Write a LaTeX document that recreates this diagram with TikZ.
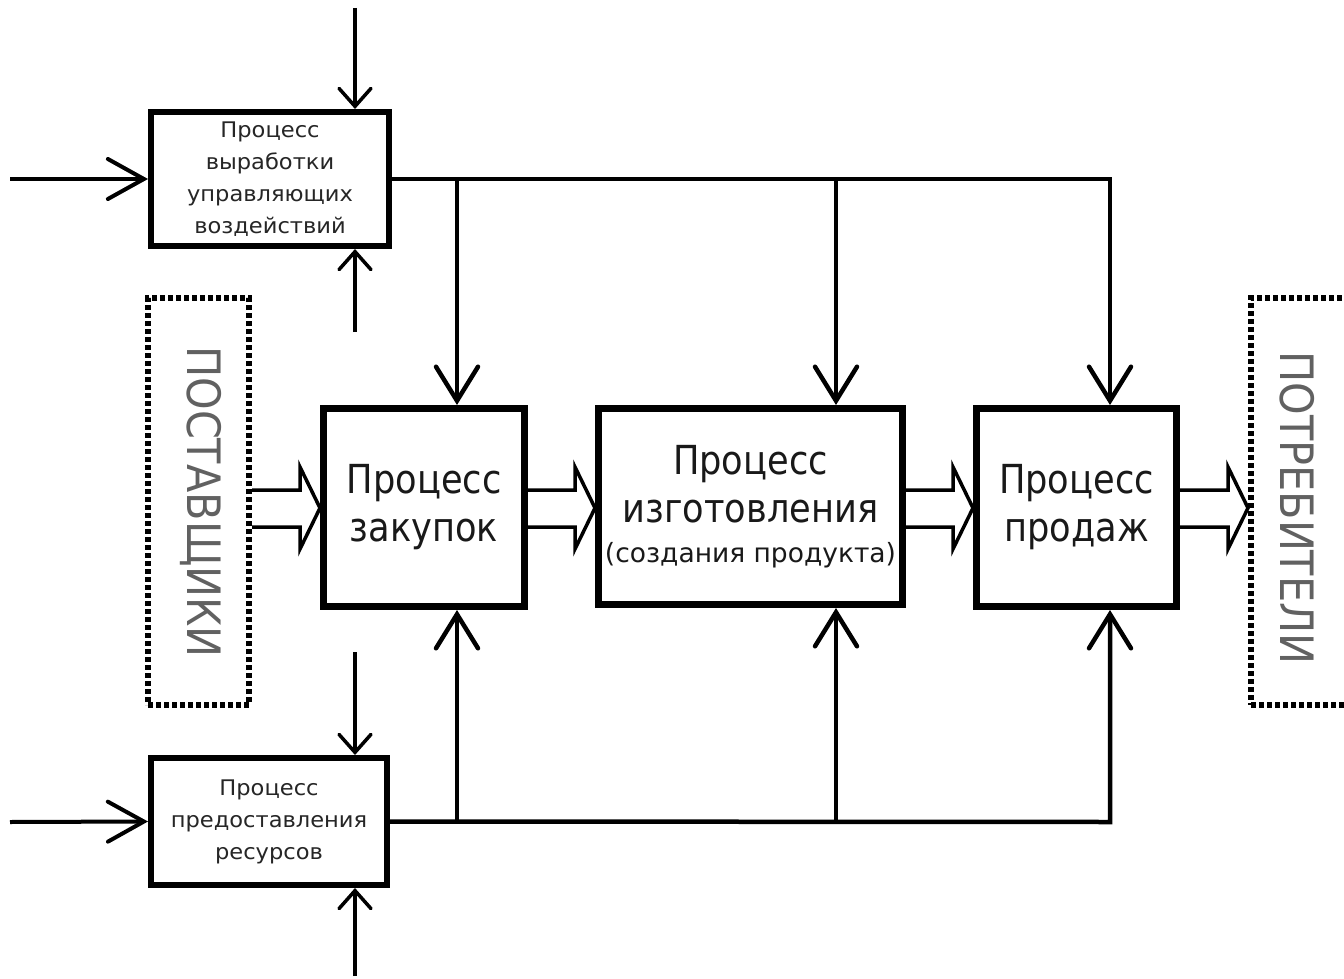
\documentclass[tikz,border=0pt]{standalone}
\usepackage{fontspec}
\setmainfont{DejaVu Sans}
\newfontfamily\mainfnt{DejaVu Sans}[FakeStretch=0.88]
\newfontfamily\smallfnt{DejaVu Sans}[FakeStretch=1.05]
\newfontfamily\vertfnt{DejaVu Sans}[FakeStretch=0.9]
\usetikzlibrary{arrows.meta,calc}
\tikzset{
  mainbox/.style={draw, line width=7pt, inner sep=0pt, align=center, text=black!90,
    font=\mainfnt\fontsize{40}{48}\selectfont},
  smallbox/.style={draw, line width=6pt, inner sep=0pt, align=center, text=black!85,
    font=\smallfnt\fontsize{21.5}{32}\selectfont},
  dotbox/.style={draw, line width=6pt, dash pattern=on 5pt off 3pt, inner sep=0pt},
  vtext/.style={rotate=-90, text=black!62, font=\vertfnt\fontsize{46}{50}\selectfont},
  bigarr/.style={line width=4.5pt, line join=miter, -{Straight Barb[length=34pt,width=42pt,line cap=round]}},
  smallarr/.style={line width=3.5pt, -{Straight Barb[length=18pt,width=32pt,line cap=round]}},
  inarr/.style={line width=4pt, -{Straight Barb[length=36pt,width=40pt,line cap=round]}},
  hollow/.style={draw, fill=white, line width=3.5pt, line join=miter}
}
\newcommand{\harrow}[2]{%
  \draw[hollow] let \p1=(#1.east), \p2=(#2.west) in
    (\x1,490) -- (\x2-20pt,490) -- (\x2-20pt,467) -- (\x2,508) -- (\x2-20pt,549) -- (\x2-20pt,527) -- (\x1,527);}
\begin{document}
\begin{tikzpicture}[x=1pt,y=-1pt]
\useasboundingbox[fill=white] (0,0) rectangle (1344,979);

% boxes
\node[smallbox, minimum width=238pt, minimum height=134pt] (A) at (270,179)
  {Процесс\\выработки\\управляющих\\воздействий};
\node[smallbox, minimum width=236pt, minimum height=127pt] (B) at (269,821.5)
  {Процесс\\предоставления\\ресурсов};
\node[mainbox, minimum width=201pt, minimum height=198pt] (P1) at (424,507.5)
  {Процесс\\закупок};
\node[mainbox, minimum width=304pt, minimum height=196pt] (P2) at (750.5,506.5)
  {Процесс\\изготовления\\[-8pt]{\setmainfont{DejaVu Sans}\fontsize{26.5}{30}\selectfont(создания продукта)}};
\node[mainbox, minimum width=200pt, minimum height=198pt] (P3) at (1076.5,507.5)
  {Процесс\\продаж};
\node[dotbox, minimum width=101pt, minimum height=407pt] (S) at (198.5,501.5) {};
\node[dotbox, minimum width=106pt, minimum height=407pt] (C) at (1304,501.5) {};
\node[vtext] (St) at (201,502) {ПОСТАВЩИКИ};
\node[vtext] (Ct) at (1297,508) {ПОТРЕБИТЕЛИ};

% hollow flows
\harrow{S}{P1}
\harrow{P1}{P2}
\harrow{P2}{P3}
\harrow{P3}{C}

% control distribution line
\coordinate (t1) at (457,179);
\coordinate (t2) at (836,179);
\coordinate (t3) at (1110,179);
\draw[bigarr] (A.east) -- (t3) -- (t3 |- P3.north);
\draw[bigarr] (t1) -- (t1 |- P1.north);
\draw[bigarr] (t2) -- (t2 |- P2.north);

% resource distribution line
\coordinate (b1) at (457,822);
\coordinate (b2) at (836,822);
\coordinate (b3) at (1110,822);
\draw[bigarr] (B.east) -- (b3) -- (b3 |- P3.south);
\draw[bigarr] (b1) -- (b1 |- P1.south);
\draw[bigarr] (b2) -- (b2 |- P2.south);

% inputs of the small boxes
\coordinate (a1) at (355,8);
\coordinate (a2) at (355,332);
\coordinate (a3) at (10,179);
\draw[smallarr] (a1) -- (a1 |- A.north);
\draw[smallarr] (a2) -- (a2 |- A.south);
\draw[inarr] (a3) -- (A.west);

\coordinate (c1) at (355,652);
\coordinate (c2) at (355,976);
\coordinate (c3) at (10,822);
\draw[smallarr] (c1) -- (c1 |- B.north);
\draw[smallarr] (c2) -- (c2 |- B.south);
\draw[inarr] (c3) -- (B.west);
\end{tikzpicture}
\end{document}
